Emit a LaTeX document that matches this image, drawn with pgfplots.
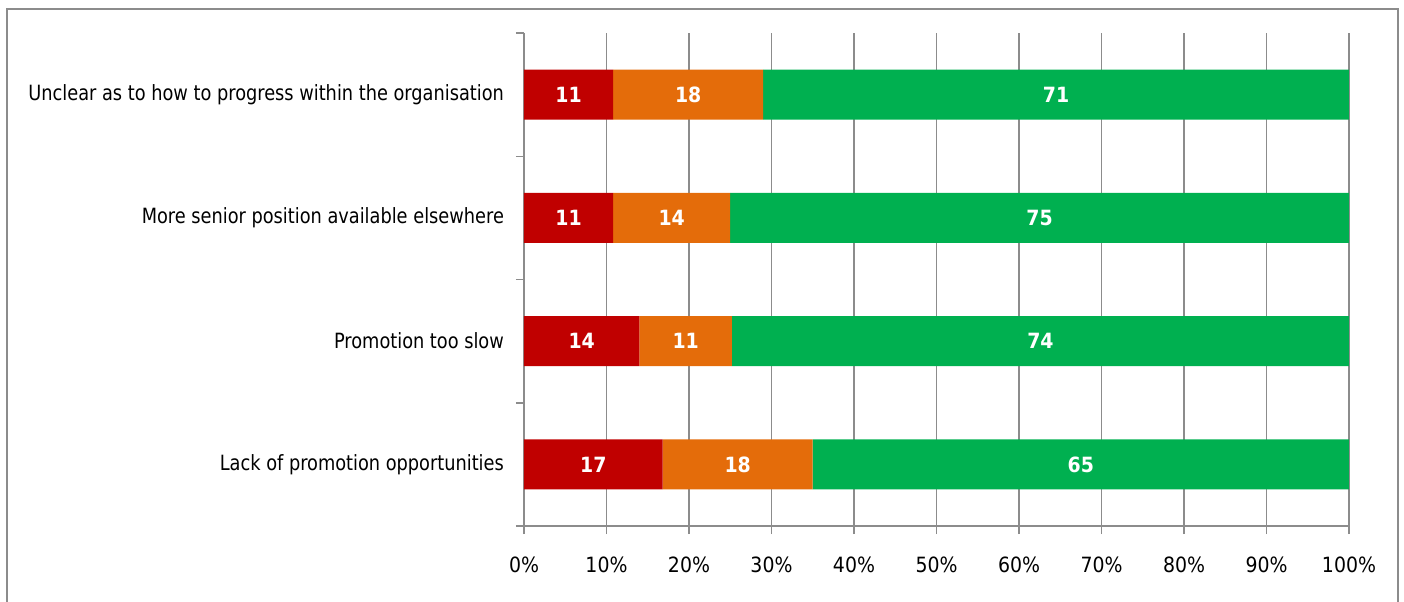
\documentclass[border=0pt]{standalone}
\usepackage{fontspec}
\setmainfont{DejaVu Sans Condensed}
\newfontfamily\ylabfont[FakeStretch=0.94]{DejaVu Sans Condensed}
\usepackage{pgfplots}
\pgfplotsset{compat=1.18}
\usepackage{pgfplotstable}
\definecolor{cred}{HTML}{C00000}
\definecolor{corange}{HTML}{E46C0A}
\definecolor{cgreen}{HTML}{00B050}
\definecolor{cgrid}{HTML}{8C8C8C}
\pgfplotstableread{
y x lab
0 16.8 17
1 14.0 14
2 10.8 11
3 10.8 11
}\tred
\pgfplotstableread{
y x lab
0 18.2 18
1 11.2 11
2 14.2 14
3 18.2 18
}\torange
\pgfplotstableread{
y x lab
0 65.0 65
1 74.8 74
2 75.0 75
3 71.0 71
}\tgreen
\begin{document}
\begin{tikzpicture}
\useasboundingbox (-262pt,-37.5pt) rectangle (440pt,263pt);
\begin{axis}[
  at={(0,0)}, anchor=south west,
  scale only axis, width=412.5pt, height=246.5pt,
  xbar stacked, bar width=25pt,
  xmin=0, xmax=100, ymin=-0.5, ymax=3.5,
  xtick={0,10,...,100},
  xticklabel={\pgfmathprintnumber{\tick}\%},
  ytick={0,1,2,3},
  yticklabels={Lack of promotion opportunities,Promotion too slow,More senior position available elsewhere,Unclear as to how to progress within the organisation},
  minor ytick={-0.5,0.5,1.5,2.5,3.5},
  major y tick style={draw=none},
  tick align=outside,
  major tick length=4pt, minor tick length=4pt,
  axis x line*=bottom, axis y line*=left,
  axis line style={cgrid, line width=0.75pt},
  every tick/.style={cgrid, line width=0.75pt},
  xmajorgrids, major grid style={cgrid, line width=0.75pt},
  tick label style={font=\fontsize{10.5}{12}\selectfont, /pgf/number format/assume math mode=true},
  xticklabel style={yshift=-8pt},
  yticklabel style={font=\ylabfont\fontsize{10.5}{12}\selectfont, xshift=-2.5pt},
  point meta=explicit symbolic,
  nodes near coords,
  every node near coord/.append style={font=\bfseries\fontsize{10.5}{12}\selectfont, text=white, anchor=center},
]
\addplot[fill=cred, draw=none] table[x=x, y=y, meta=lab] {\tred};
\addplot[fill=corange, draw=none] table[x=x, y=y, meta=lab] {\torange};
\addplot[fill=cgreen, draw=none] table[x=x, y=y, meta=lab] {\tgreen};
\end{axis}
\draw[cgrid, line width=0.75pt] (-258.5pt,-60pt) rectangle (437pt,258.5pt);
\end{tikzpicture}
\end{document}
